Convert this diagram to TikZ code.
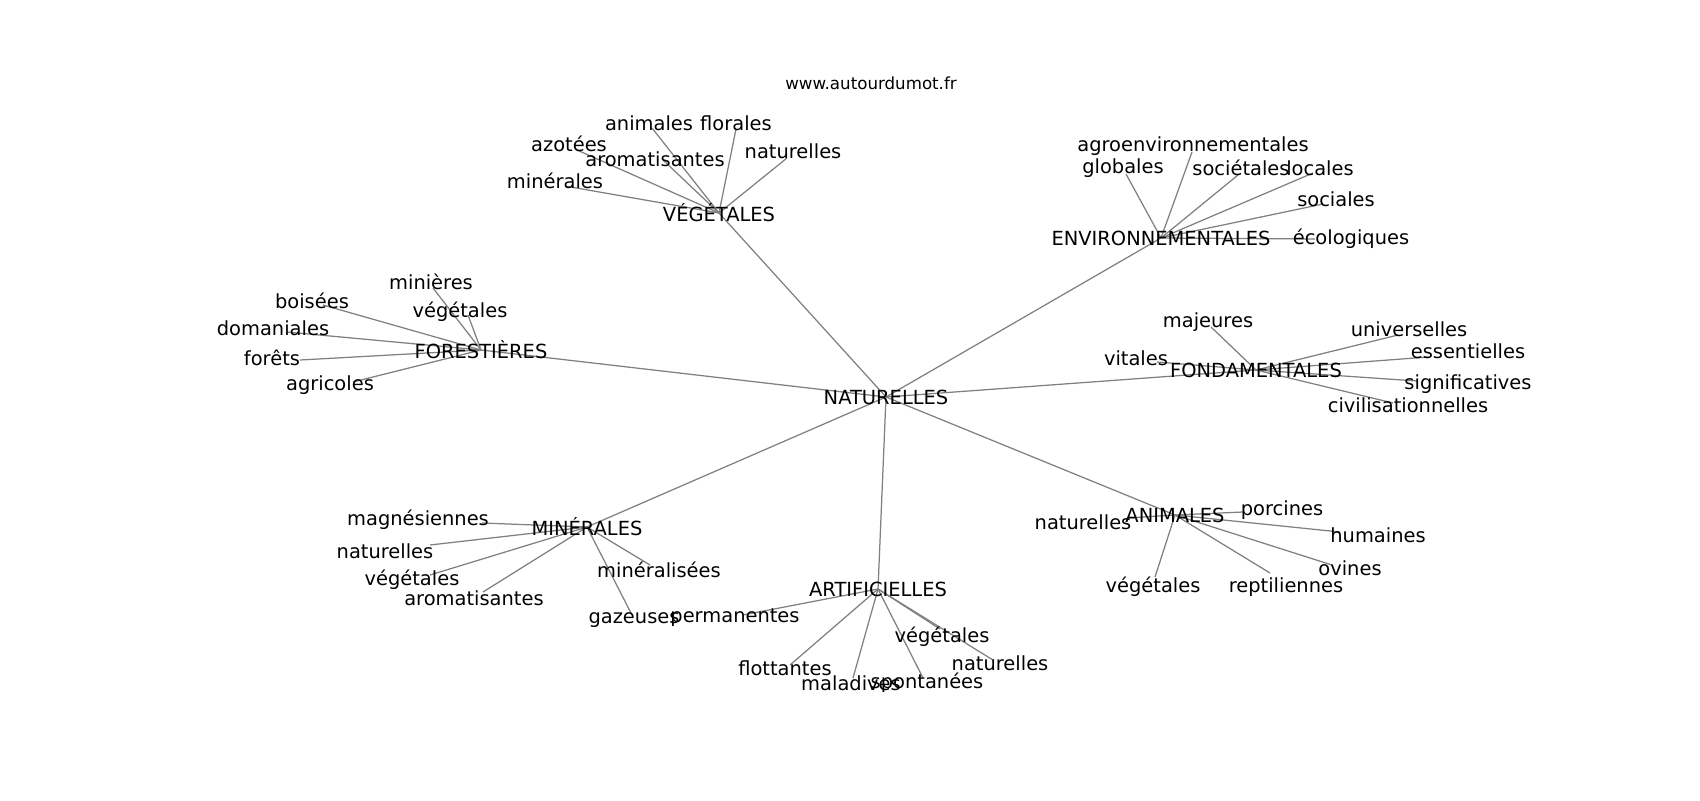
\documentclass[tikz,border=0pt]{standalone}
\usepackage{fontspec}
\setmainfont{DejaVu Sans}
\pgfdeclarelayer{bg}
\pgfsetlayers{bg,main}
\begin{document}
\begin{tikzpicture}[x=0.72pt,y=-0.72pt,
  lbl/.style={font=\fontsize{14}{16}\selectfont, inner sep=0pt, text=black},
  ttl/.style={font=\fontsize{12}{14}\selectfont, inner sep=0pt, text=black},
  edge/.style={draw=gray, line width=0.9pt}]
\useasboundingbox (0,0) rectangle (1700,800);
\node[ttl] (title) at (871,83) {www.autourdumot.fr};
% hubs
\node[lbl] (nat) at (886,397) {NATURELLES};
\node[lbl] (veg) at (719,213) {VÉGÉTALES};
\node[lbl] (env) at (1161,238) {ENVIRONNEMENTALES};
\node[lbl] (for) at (481,350) {FORESTIÈRES};
\node[lbl] (fon) at (1256,370) {FONDAMENTALES};
\node[lbl] (min) at (587,527) {MINÉRALES};
\node[lbl] (art) at (878,589) {ARTIFICIELLES};
\node[lbl] (ani) at (1175,515) {ANIMALES};
% VEGETALES leaves
\coordinate (v1) at (652,128); \node[lbl] (lv1) at (649,123) {animales};
\coordinate (v2) at (736,129); \node[lbl] (lv2) at (736,123) {florales};
\coordinate (v3) at (577,150); \node[lbl] (lv3) at (569,144) {azotées};
\coordinate (v4) at (663,160); \node[lbl] (lv4) at (655,159) {aromatisantes};
\coordinate (v5) at (787,158); \node[lbl] (lv5) at (793,151) {naturelles};
\coordinate (v6) at (565,186); \node[lbl] (lv6) at (555,181) {minérales};
% ENVIRONNEMENTALES leaves
\coordinate (e1) at (1192,152); \node[lbl] (le1) at (1193,146) {agroenvironnementales};
\coordinate (e2) at (1126,174); \node[lbl] (le2) at (1123,168) {globales};
\coordinate (e3) at (1238,175); \node[lbl] (le3) at (1241,168) {sociétales};
\coordinate (e4) at (1313,173); \node[lbl] (le4) at (1320,168) {locales};
\coordinate (e5) at (1323,204); \node[lbl] (le5) at (1336,199) {sociales};
\coordinate (e6) at (1315,239); \node[lbl] (le6) at (1351,239) {écologiques};
% FONDAMENTALES leaves
\coordinate (f1) at (1398,335); \node[lbl] (lf1) at (1409,329) {universelles};
\coordinate (f2) at (1428,357); \node[lbl] (lf2) at (1468,351) {essentielles};
\coordinate (f3) at (1417,381); \node[lbl] (lf3) at (1468,384) {significatives};
\coordinate (f4) at (1393,403); \node[lbl] (lf4) at (1408,405) {civilisationnelles};
\coordinate (f5) at (1211,327); \node[lbl] (lf5) at (1208,322) {majeures};
\coordinate (f6) at (1157,362); \node[lbl] (lf6) at (1136,358) {vitales};
% FORESTIERES leaves
\coordinate (o1) at (433,288); \node[lbl] (lo1) at (431,282) {minières};
\coordinate (o2) at (323,305); \node[lbl] (lo2) at (312,301) {boisées};
\coordinate (o3) at (468,315); \node[lbl] (lo3) at (460,312) {végétales};
\coordinate (o4) at (287,332); \node[lbl] (lo4) at (273,328) {domaniales};
\coordinate (o5) at (300,360); \node[lbl] (lo5) at (272,358) {forêts};
\coordinate (o6) at (353,382); \node[lbl] (lo6) at (330,385) {agricoles};
% MINERALES leaves
\coordinate (m1) at (482,523); \node[lbl] (lm1) at (418,520) {magnésiennes};
\coordinate (m2) at (430,545); \node[lbl] (lm2) at (385,551) {naturelles};
\coordinate (m3) at (430,575); \node[lbl] (lm3) at (412,580) {végétales};
\coordinate (m4) at (483,592); \node[lbl] (lm4) at (474,598) {aromatisantes};
\coordinate (m5) at (650,565); \node[lbl] (lm5) at (659,570) {minéralisées};
\coordinate (m6) at (632,615); \node[lbl] (lm6) at (634,620) {gazeuses};
% ARTIFICIELLES leaves
\coordinate (a1) at (743,615); \node[lbl] (la1) at (735,618) {permanentes};
\coordinate (a2) at (790,665); \node[lbl] (la2) at (785,668) {flottantes};
\coordinate (a3) at (853,678); \node[lbl] (la3) at (851,683) {maladives};
\coordinate (a4) at (923,678); \node[lbl] (la4) at (927,683) {spontanées};
\coordinate (a5) at (940,629); \node[lbl] (la5) at (942,637) {végétales};
\coordinate (a6) at (993,660); \node[lbl] (la6) at (1000,663) {naturelles};
% ANIMALES leaves
\coordinate (n1) at (1243,512); \node[lbl] (ln1) at (1282,510) {porcines};
\coordinate (n2) at (1127,518); \node[lbl] (ln2) at (1083,522) {naturelles};
\coordinate (n3) at (1340,532); \node[lbl] (ln3) at (1378,535) {humaines};
\coordinate (n4) at (1332,565); \node[lbl] (ln4) at (1350,568) {ovines};
\coordinate (n5) at (1155,577); \node[lbl] (ln5) at (1153,587) {végétales};
\coordinate (n6) at (1270,573); \node[lbl] (ln6) at (1286,587) {reptiliennes};
\begin{pgfonlayer}{bg}
\foreach \h in {veg,env,for,fon,min,art,ani}
  \draw[edge] (nat.center) -- (\h.center);
\foreach \l in {v1,v2,v3,v4,v5,v6} \draw[edge] (veg.center) -- (\l);
\foreach \l in {e1,e2,e3,e4,e5,e6} \draw[edge] (env.center) -- (\l);
\foreach \l in {f1,f2,f3,f4,f5,f6} \draw[edge] (fon.center) -- (\l);
\foreach \l in {o1,o2,o3,o4,o5,o6} \draw[edge] (for.center) -- (\l);
\foreach \l in {m1,m2,m3,m4,m5,m6} \draw[edge] (min.center) -- (\l);
\foreach \l in {a1,a2,a3,a4,a5,a6} \draw[edge] (art.center) -- (\l);
\foreach \l in {n1,n2,n3,n4,n5,n6} \draw[edge] (ani.center) -- (\l);
\end{pgfonlayer}
\end{tikzpicture}
\end{document}
